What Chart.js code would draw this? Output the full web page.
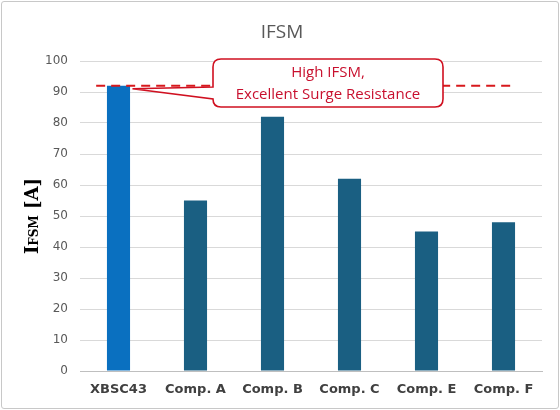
<!DOCTYPE html>
<html><head><meta charset="utf-8">
<script src="https://cdn.jsdelivr.net/npm/chart.js@4/dist/chart.umd.min.js"></script>
<style>
html,body{margin:0;padding:0;background:#fff;}
#wrap{position:absolute;left:1px;top:1px;width:556px;height:406px;border:1px solid #c8c8c8;border-radius:3px;background:#fff;}
canvas{position:absolute;left:0;top:0;}
</style></head><body>
<div id="wrap"><canvas id="c" width="556" height="406"></canvas></div>
<script>
const categories = ["XBSC43", "Comp. A", "Comp. B", "Comp. C", "Comp. E", "Comp. F"];
const ifsmValues = [92, 55, 82, 62, 45, 48];
const highlightLevel = [92];
const yTicks = [0, 10, 20, 30, 40, 50, 60, 70, 80, 90, 100];
const calloutLines = ["High IFSM,", "Excellent Surge Resistance"];
const titleText = "IFSM";
const yTitleParts = ["I", "FSM", " [A]"];

const barColors = categories.map((c, i) => i === 0 ? "#0a70c0" : "#1a5f82");

const overlay = {
  id: "overlay",
  afterDatasetsDraw(chart) {
    const ctx = chart.ctx, x = chart.scales.x, y = chart.scales.y, ca = chart.chartArea;
    ctx.save();
    // title
    ctx.fillStyle = "#595959"; ctx.font = "19px 'Open Sans', 'Liberation Sans', sans-serif";
    ctx.textAlign = "center"; ctx.textBaseline = "middle";
    ctx.fillText(titleText, chart.width / 2 + 2, 31);
    const yL = y.getPixelForValue(highlightLevel[0]);
    const step = x.getPixelForValue(1) - x.getPixelForValue(0);
    const x0 = x.getPixelForValue(0) - step * 0.29;
    const x1 = x.getPixelForValue(categories.length - 1) + step * 0.11;
    ctx.strokeStyle = "#d7191c"; ctx.lineWidth = 2; ctx.setLineDash([9, 6]);
    ctx.beginPath(); ctx.moveTo(x0, yL); ctx.lineTo(x1, yL); ctx.stroke();
    ctx.setLineDash([]);
    // callout
    const bx = ca.left + 133, bw = 230, by = ca.top - 2, bh = 48, r = 8;
    const tipX = x.getPixelForValue(0) + 14, tipY = yL + 3;
    ctx.fillStyle = "#fff"; ctx.strokeStyle = "#d01020"; ctx.lineWidth = 1.6;
    ctx.beginPath();
    ctx.moveTo(bx + r, by);
    ctx.lineTo(bx + bw - r, by); ctx.quadraticCurveTo(bx + bw, by, bx + bw, by + r);
    ctx.lineTo(bx + bw, by + bh - r); ctx.quadraticCurveTo(bx + bw, by + bh, bx + bw - r, by + bh);
    ctx.lineTo(bx + r, by + bh); ctx.quadraticCurveTo(bx, by + bh, bx, by + bh - r);
    ctx.lineTo(bx, by + 40);
    ctx.lineTo(tipX, tipY);
    ctx.lineTo(bx, by + 28);
    ctx.lineTo(bx, by + r); ctx.quadraticCurveTo(bx, by, bx + r, by);
    ctx.closePath(); ctx.fill(); ctx.stroke();
    ctx.fillStyle = "#c8102e"; ctx.font = "15px 'Open Sans', 'Liberation Sans', sans-serif";
    ctx.textAlign = "center"; ctx.textBaseline = "middle";
    ctx.fillText(calloutLines[0], bx + bw / 2, by + 14);
    ctx.fillText(calloutLines[1], bx + bw / 2, by + 36);
    // y title with subscript-style part
    const cy = (ca.top + ca.bottom) / 2;
    ctx.translate(30, cy); ctx.rotate(-Math.PI / 2);
    ctx.fillStyle = "#000"; ctx.textAlign = "left"; ctx.textBaseline = "alphabetic";
    const f1 = "bold 18px 'DejaVu Serif', 'Liberation Serif', serif";
    const f2 = "bold 12px 'DejaVu Serif', 'Liberation Serif', serif";
    ctx.font = f1; const w1 = ctx.measureText(yTitleParts[0]).width, w3 = ctx.measureText(yTitleParts[2]).width;
    ctx.font = f2; const w2 = ctx.measureText(yTitleParts[1]).width;
    let px = -(w1 + w2 + w3) / 2;
    ctx.font = f1; ctx.fillText(yTitleParts[0], px, 6); px += w1;
    ctx.font = f2; ctx.fillText(yTitleParts[1], px, 6); px += w2;
    ctx.font = f1; ctx.fillText(yTitleParts[2], px, 6);
    ctx.restore();
  }
};

new Chart(document.getElementById("c"), {
  type: "bar",
  data: {
    labels: categories,
    datasets: [{ data: ifsmValues, backgroundColor: barColors, barPercentage: 0.6, categoryPercentage: 0.5 }]
  },
  options: {
    responsive: false, animation: false,
    layout: { padding: { left: 0, right: 16, top: 59, bottom: 7 } },
    plugins: { legend: { display: false }, tooltip: { enabled: false }, title: { display: false } },
    scales: {
      x: {
        afterFit: (s) => { s.height = 30; },
        grid: { display: false, drawTicks: false },
        border: { color: "#bfbfbf" },
        ticks: { color: "#404040", padding: 11, font: { size: 13, weight: "bold", family: "'DejaVu Sans', Verdana, sans-serif" } }
      },
      y: {
        min: 0, max: 100,
        afterFit: (s) => { s.width = 78; },
        afterBuildTicks: (s) => { s.ticks = yTicks.map(v => ({ value: v })); },
        grid: { color: "#d9d9d9", drawTicks: false },
        border: { display: false },
        ticks: { color: "#595959", padding: 12, font: { size: 12, family: "'DejaVu Sans', Verdana, sans-serif" } }
      }
    }
  },
  plugins: [overlay]
});
</script>
</body></html>
